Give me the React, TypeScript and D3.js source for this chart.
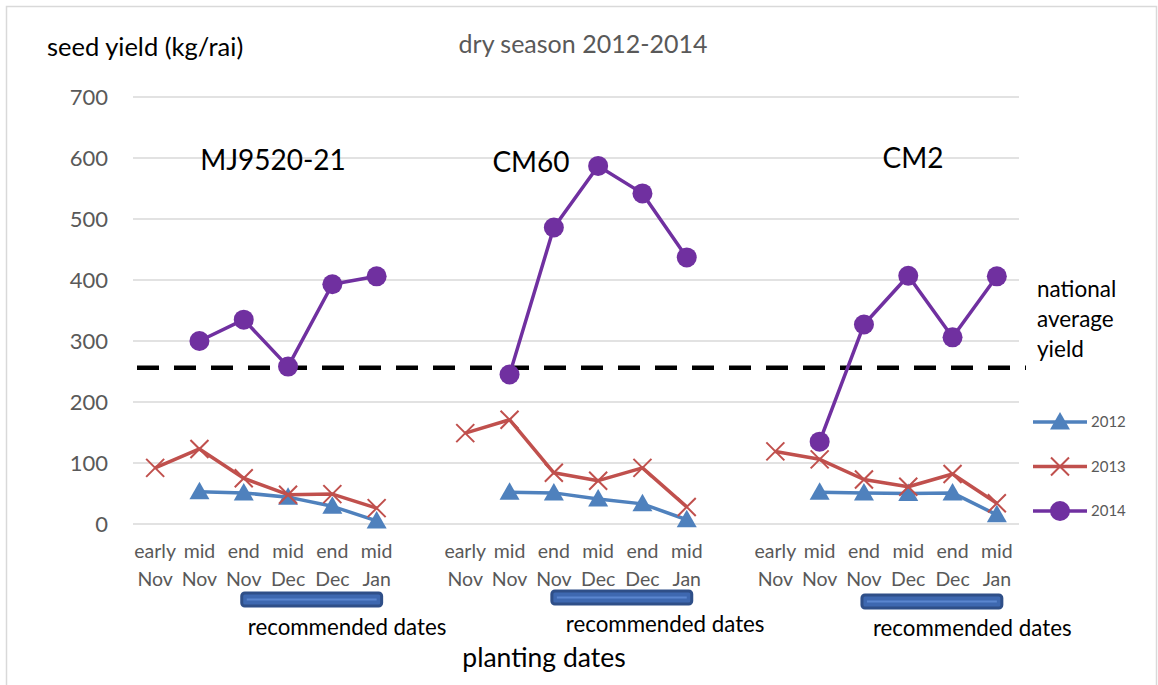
import { useEffect } from 'react'
import * as d3 from 'd3'

// planting dates (same six for every variety)
const dates = ['early Nov', 'mid Nov', 'end Nov', 'mid Dec', 'end Dec', 'mid Jan']
const varieties = ['MJ9520-21', 'CM60', 'CM2']
const years = ['2012', '2013', '2014']

// seed yield kg/rai, one array per variety, null = not planted
const mj2012 = [null, 53, 51, 44, 29, 5]
const mj2013 = [92, 123, 75, 48, 49, 26]
const mj2014 = [null, 300, 335, 258, 393, 406]
const cm60_2012 = [null, 52, 51, 41, 33, 7]
const cm60_2013 = [149, 171, 84, 71, 92, 28]
const cm60_2014 = [null, 245, 486, 587, 542, 437]
const cm2_2012 = [null, 52, 51, 50, 51, 15]
const cm2_2013 = [119, 106, 73, 61, 82, 34]
const cm2_2014 = [null, 135, 327, 407, 306, 406]

const nationalAverage = 256
const yTicks = [0, 100, 200, 300, 400, 500, 600, 700]

const seriesByVariety: Record<string, (number | null)[][]> = {
  'MJ9520-21': [mj2012, mj2013, mj2014],
  CM60: [cm60_2012, cm60_2013, cm60_2014],
  CM2: [cm2_2012, cm2_2013, cm2_2014],
}

const colors = ['#4F81BD', '#C0504D', '#7030A0']
const FONT = 'Lato, "Open Sans", sans-serif'

// 6 dates + gap + 6 dates + gap + 6 dates
const slots: string[] = []
varieties.forEach((v, i) => {
  dates.forEach(d => slots.push(`${v}|${d}`))
  if (i < varieties.length - 1) slots.push(`gap${i}`)
})

function Marker({ kind, x, y, color }: { kind: number; x: number; y: number; color: string }) {
  if (kind === 0) {
    const s = 10
    return <path d={`M${x},${y - s}L${x + s},${y + s * 0.75}L${x - s},${y + s * 0.75}Z`} fill={color} />
  }
  if (kind === 1) {
    const s = 9
    return (
      <path d={`M${x - s},${y - s}L${x + s},${y + s}M${x - s},${y + s}L${x + s},${y - s}`}
        stroke={color} strokeWidth={2} fill="none" />
    )
  }
  return <circle cx={x} cy={y} r={10} fill={color} />
}

export default function App() {
  useEffect(() => {
    document.body.style.margin = '0'
  }, [])

  const width = 1158
  const height = 685

  const x = d3.scaleBand<string>().domain(slots).range([133, 1019]).padding(0)
  const cx = (k: string) => (x(k) ?? 0) + x.bandwidth() / 2
  const y = d3.scaleLinear().domain([0, 700]).range([524, 97])

  const line = d3.line<{ k: string; v: number | null }>()
    .defined(d => d.v !== null)
    .x(d => cx(d.k))
    .y(d => y(d.v as number))

  const labelPos: Record<string, { dx: number; dy: number }> = {
    'MJ9520-21': { dx: 273, dy: 170 },
    CM60: { dx: 531, dy: 172 },
    CM2: { dx: 913, dy: 168 },
  }
  const recY: Record<string, number> = { 'MJ9520-21': 593, CM60: 591, CM2: 595 }
  const recTextY: Record<string, number> = { 'MJ9520-21': 635, CM60: 632, CM2: 636 }
  const recTextDx: Record<string, number> = { 'MJ9520-21': 6, CM60: 14, CM2: 11 }

  return (
    <svg width={width} height={height} style={{ display: 'block', fontFamily: FONT }}>
      <rect x={0} y={0} width={width} height={height} fill="#fff" />
      <rect x={6.5} y={6.5} width={1150} height={720} fill="none" stroke="#d9d9d9" strokeWidth={1.5} />

      {/* gridlines */}
      {yTicks.map(t => (
        <g key={t}>
          <line x1={133} x2={1019} y1={y(t)} y2={y(t)} stroke="#d9d9d9" strokeWidth={1.5} />
          <text x={108} y={y(t)} dy="0.35em" textAnchor="end" fontSize={22} fill="#595959">{t}</text>
        </g>
      ))}

      <text x={47} y={56} fontSize={25.5} fill="#000">seed yield (kg/rai)</text>
      <text x={583} y={53} textAnchor="middle" fontSize={25} fill="#595959">dry season 2012-2014</text>

      {/* x tick labels */}
      {varieties.map(v => dates.map(d => {
        const [a, b] = d.split(' ')
        const k = `${v}|${d}`
        return (
          <text key={k} x={cx(k)} textAnchor="middle" fontSize={19.5} fill="#595959">
            <tspan x={cx(k)} y={558}>{a}</tspan>
            <tspan x={cx(k)} y={586}>{b}</tspan>
          </text>
        )
      }))}

      {/* national average */}
      <line x1={130} x2={1026} y1={y(nationalAverage)} y2={y(nationalAverage)}
        stroke="#000" strokeWidth={4.5} strokeDasharray="22 15" strokeDashoffset={-7} />
      <text fontSize={22.5} fill="#000">
        <tspan x={1037} y={297}>national</tspan>
        <tspan x={1037} y={327}>average</tspan>
        <tspan x={1037} y={357}>yield</tspan>
      </text>

      {/* series */}
      {years.map((yr, si) => (
        <g key={yr}>
          {varieties.map(v => {
            const pts = seriesByVariety[v][si].map((val, i) => ({ k: `${v}|${dates[i]}`, v: val }))
            return (
              <g key={v}>
                <path d={line(pts) ?? ''} fill="none" stroke={colors[si]} strokeWidth={3.5} strokeLinejoin="round" />
                {pts.filter(p => p.v !== null).map(p => (
                  <Marker key={p.k} kind={si} x={cx(p.k)} y={y(p.v as number)} color={colors[si]} />
                ))}
              </g>
            )
          })}
        </g>
      ))}

      {/* variety labels */}
      {varieties.map(v => (
        <text key={v} x={labelPos[v].dx} y={labelPos[v].dy} textAnchor="middle" fontSize={28} fill="#000">{v}</text>
      ))}

      {/* recommended dates */}
      {varieties.map(v => {
        const x0 = cx(`${v}|end Nov`) - 2
        const x1 = cx(`${v}|mid Jan`) + 5
        const yy = recY[v]
        return (
          <g key={v}>
            <rect x={x0} y={yy} width={x1 - x0} height={13} rx={3} fill="#3E68B0" stroke="#2F4F88" strokeWidth={3} />
            <line x1={x0 + 5} x2={x1 - 5} y1={yy + 6.5} y2={yy + 6.5} stroke="#5B86CF" strokeWidth={2} />
            <text x={x0 + recTextDx[v]} y={recTextY[v]} fontSize={22.3} fill="#000">recommended dates</text>
          </g>
        )
      })}

      <text x={544} y={667} textAnchor="middle" fontSize={26.5} fill="#000">planting dates</text>

      {/* legend */}
      {years.map((yr, si) => {
        const ly = 422 + si * 44.5
        return (
          <g key={yr}>
            <line x1={1033} x2={1087} y1={ly} y2={ly} stroke={colors[si]} strokeWidth={3.5} />
            <Marker kind={si} x={1060} y={ly} color={colors[si]} />
            <text x={1091} y={ly} dy="0.35em" fontSize={15} fill="#595959">{yr}</text>
          </g>
        )
      })}
    </svg>
  )
}
